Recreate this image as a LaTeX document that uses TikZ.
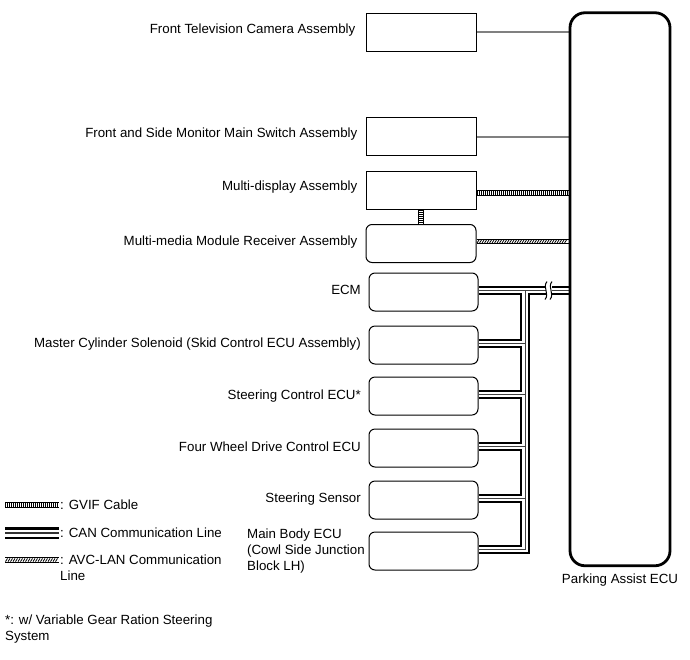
\documentclass[tikz,border=0pt]{standalone}
\usepackage{fontspec}
\setmainfont{Liberation Sans}
\usetikzlibrary{decorations.markings,calc}
\pgfdeclarelayer{bg}
\pgfsetlayers{bg,main}
\newcommand\mycannet[1]{%
  \draw[#1] (canE) -- (canE -| pa.west);
  \draw[#1] (canE -| tx) -- (canB -| tx) -- (canB);
  \foreach \b in {canM,canS,canF,canR}{\draw[#1] (\b) -- (\b -| tx);}
}
\begin{document}
\begin{tikzpicture}[x=1pt,y=-1pt,
  txt/.style={font=\fontsize{13.3pt}{16pt}\selectfont, inner sep=0pt},
  sbox/.style={draw, line width=1pt, minimum width=110pt, minimum height=38pt, inner sep=0pt},
  rbox/.style={sbox, rounded corners=6pt, minimum width=109pt},
  ecu/.style={draw, line width=2.8pt, rounded corners=15pt, minimum width=100pt, minimum height=553pt, inner sep=0pt},
  plainline/.style={draw=black!50, line width=1.3pt},
  gvif/.style={line width=5.5pt, draw=black, postaction={draw=white, line width=3.3pt},
    postaction={decorate, decoration={markings, mark=between positions 0.8pt and -0.8pt step 2pt with {\draw[black, line width=1pt] (0,-1.7pt) -- (0,1.7pt);}}}},
  avc/.style={line width=5.5pt, draw=black, postaction={draw=white, line width=3.3pt},
    postaction={decorate, decoration={markings, mark=between positions 1.5pt and -1.5pt step 2.5pt with {\draw[black, line width=0.8pt] (-1pt,-1.6pt) -- (1pt,1.6pt);}}}},
  canA/.style={line width=9.5pt, black},
  canB/.style={line width=5.5pt, white},
  canC/.style={line width=0.8pt, black!75},
  legA/.style={line width=12pt, black},
  legB/.style={line width=7pt, white},
  legC/.style={line width=1.7pt, black!80},
]
\useasboundingbox (0,0) rectangle (690,659);

% boxes
\node[sbox] (ftc) at (421,32) {};
\node[sbox] (fsm) at (421,136) {};
\node[sbox] (mda) at (421,190) {};
\node[sbox, rounded corners=6pt] (mmr) at (421,243.5) {};
\node[rbox] (ecm) at (423.5,292) {};
\node[rbox] (mcs) at (423.5,345) {};
\node[rbox] (sce) at (423.5,396) {};
\node[rbox] (fwd) at (423.5,448) {};
\node[rbox] (ssr) at (423.5,500) {};
\node[rbox] (mbe) at (423.5,551) {};
\node[ecu] (pa) at (620,289.25) {};

% labels
\node[txt, anchor=base east] (ftcl) at ([xshift=-10pt,yshift=-1pt]ftc.west) {Front Television Camera Assembly};
\node[txt, anchor=base east] (fsml) at ([xshift=-8pt,yshift=-1pt]fsm.west) {Front and Side Monitor Main Switch Assembly};
\node[txt, anchor=base east] (mdal) at ([xshift=-8pt,yshift=-0.5pt]mda.west) {Multi-display Assembly};
\node[txt, anchor=base east] (mmrl) at ([xshift=-8pt,yshift=-1.5pt]mmr.west) {Multi-media Module Receiver Assembly};
\node[txt, anchor=base east] (ecml) at ([xshift=-7.5pt,yshift=-2.5pt]ecm.west) {ECM};
\node[txt, anchor=base east] (mcsl) at ([xshift=-7.5pt,yshift=-2.5pt]mcs.west) {Master Cylinder Solenoid (Skid Control ECU Assembly)};
\node[txt, anchor=base east] (scel) at ([xshift=-7.5pt,yshift=-3.5pt]sce.west) {Steering Control ECU*};
\node[txt, anchor=base east] (fwdl) at ([xshift=-7.5pt,yshift=-3.5pt]fwd.west) {Four Wheel Drive Control ECU};
\node[txt, anchor=base east] (ssrl) at ([xshift=-7.5pt,yshift=-2.5pt]ssr.west) {Steering Sensor};
\node[txt, anchor=west, align=left] (mbel) at (247,551.5) {Main Body ECU\\(Cowl Side Junction\\Block LH)};
\node[txt, anchor=base] (pal) at ([yshift=-16.6pt]pa.south) {Parking Assist ECU};

% connection points
\coordinate (tx) at (525,0);
\coordinate (bx) at (548,0);
\coordinate (canE) at ([yshift=1.5pt]ecm.east);
\coordinate (canM) at ([yshift=1.5pt]mcs.east);
\coordinate (canS) at ([yshift=1.5pt]sce.east);
\coordinate (canF) at ([yshift=1.5pt]fwd.east);
\coordinate (canR) at ([yshift=1.5pt]ssr.east);
\coordinate (canB) at ([yshift=1.5pt]mbe.east);
\coordinate (gv1) at ([yshift=-3pt]mda.east);
\coordinate (av1) at ([yshift=2pt]mmr.east);

\begin{pgfonlayer}{bg}
\draw[plainline] (ftc.east) -- (ftc.east -| pa.west);
\draw[plainline] ([yshift=-1pt]fsm.east) -- ([yshift=-1pt]fsm.east -| pa.west);
\draw[gvif] (gv1) -- (gv1 -| pa.west);
\draw[gvif] (mda.south) -- (mmr.north);
\draw[avc] (av1) -- (av1 -| pa.west);
\mycannet{canA}
\mycannet{canB}
\mycannet{canC}
\end{pgfonlayer}

% break symbol on the bus
\coordinate (brk) at (canE -| bx);
\fill[white] ($(brk)+(-1.8,-6.5)$) rectangle ($(brk)+(3.8,6.5)$);
\draw[line width=1pt] ($(brk)+(-1,-9)$) .. controls ($(brk)+(-6,-3)$) and ($(brk)+(2,3)$) .. ($(brk)+(-3,9)$);
\draw[line width=1pt] ($(brk)+(4,-9)$) .. controls ($(brk)+(-1,-3)$) and ($(brk)+(7,3)$) .. ($(brk)+(2,9)$);

% legend
\coordinate (lg1) at (5,505);
\coordinate (lg2) at (59,505);
\coordinate (lc1) at (5,533);
\coordinate (lc2) at (59,533);
\coordinate (la1) at (5,560);
\coordinate (la2) at (59,560);
\draw[gvif] (lg1) -- (lg2);
\draw[legA] (lc1) -- (lc2);
\draw[legB] (lc1) -- (lc2);
\draw[legC] (lc1) -- (lc2);
\draw[avc] (la1) -- (la2);
\node[txt, anchor=base west] (lgt) at ([xshift=1pt,yshift=-4.8pt]lg2) {: GVIF Cable};
\node[txt, anchor=base west] (lct) at ([xshift=1pt,yshift=-4.3pt]lc2) {: CAN Communication Line};
\node[txt, anchor=west, align=left] (lat) at ([xshift=1pt,yshift=-8pt]la2) {: AVC-LAN Communication\\Line};

% footnote
\node[txt, anchor=west, align=left] (fn) at (5,629.5) {*: w/ Variable Gear Ration Steering\\System};
\end{tikzpicture}
\end{document}
